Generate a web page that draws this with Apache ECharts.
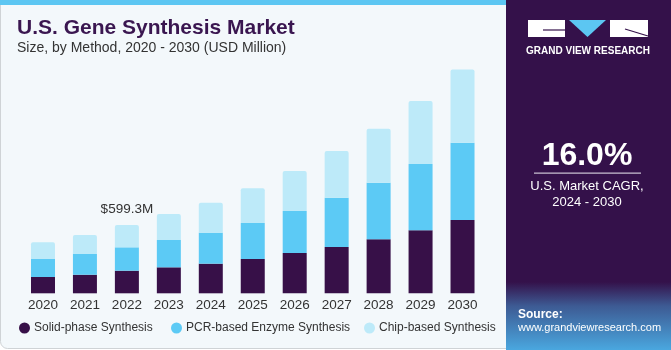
<!DOCTYPE html>
<html><head><meta charset="utf-8">
<script src="https://cdn.jsdelivr.net/npm/echarts@6/dist/echarts.min.js"></script>
<style>html,body{margin:0;padding:0;background:#fff}#c{width:671px;height:350px}</style>
</head><body><div id="c"></div>
<script>
var years = ['2020','2021','2022','2023','2024','2025','2026','2027','2028','2029','2030'];
var solidPhase = [143, 163, 198.3, 228, 260, 301, 354, 406, 474, 553, 643];
var pcrBased   = [158, 182, 205, 240, 272, 316, 369, 433, 497, 582, 678];
var chipBased  = [147, 167, 196, 228, 263, 304, 351, 410, 474, 553, 644];
var seriesNames = ['Solid-phase Synthesis','PCR-based Enzyme Synthesis','Chip-based Synthesis'];
var calloutIndex = 2;
var calloutText = '$599.3M';

var chart = echarts.init(document.getElementById('c'), null, {renderer:'canvas'});
var font = 'Liberation Sans, Arial, sans-serif';
var chipData = chipBased.map(function(v,i){
  if(i===calloutIndex) return {value:v,label:{show:true,position:'top',distance:9,formatter:calloutText,color:'#333',fontSize:13.5,fontFamily:font}};
  return v;
});
var legendLefts = [14, 166, 359];
var legends = seriesNames.map(function(n,i){
  return {left:legendLefts[i],top:317,itemWidth:11,itemHeight:11,icon:'circle',
    textStyle:{color:'#333',fontSize:12,fontFamily:font,padding:[0,0,0,-1]},data:[n]};
});
chart.setOption({
  animation:false,
  backgroundColor:'#ffffff',
  graphic:[
    {type:'rect',z:-10,shape:{x:0.5,y:0.5,width:520,height:348,r:[0,0,0,7]},style:{fill:'#f3f8fb',stroke:'#cfd3d6',lineWidth:1}},
    {type:'rect',z:-9,shape:{x:0,y:0,width:510,height:5},style:{fill:'#5cc6f2'}},
    {type:'rect',z:-8,shape:{x:506,y:0,width:165,height:350},style:{fill:'#34114a'}},
    {type:'rect',z:-7,shape:{x:506,y:282,width:165,height:68},style:{fill:new echarts.graphic.LinearGradient(0,0,0,1,[{offset:0,color:'#34114a'},{offset:0.35,color:'#3d5a93'},{offset:1,color:'#4aa7df'}])}},
    {type:'text',left:17,top:18,style:{text:'U.S. Gene Synthesis Market',fill:'#3a1650',font:'bold 21px '+font}},
    {type:'text',left:17,top:41,style:{text:'Size, by Method, 2020 - 2030 (USD Million)',fill:'#333',font:'14px '+font}},
    // logo
    {type:'rect',shape:{x:528,y:20,width:37,height:17},style:{fill:'#fff'}},
    {type:'polyline',shape:{points:[[543,30],[565,30]]},style:{stroke:'#34114a',lineWidth:1.2}},
    {type:'polygon',shape:{points:[[569,20],[606,20],[587.5,37]]},style:{fill:'#5cc6f2'}},
    {type:'rect',shape:{x:610,y:20,width:38,height:17},style:{fill:'#fff'}},
    {type:'polyline',shape:{points:[[625,29],[648,36]]},style:{stroke:'#34114a',lineWidth:1.2}},
    {type:'text',x:588,y:46,style:{text:'GRAND VIEW RESEARCH',fill:'#fff',font:'bold 10px '+font,align:'center'}},
    {type:'text',x:587,y:140,style:{text:'16.0%',fill:'#fff',font:'bold 32px '+font,align:'center'}},
    {type:'rect',shape:{x:534,y:172.5,width:107,height:1.2},style:{fill:'#c9c0d2'}},
    {type:'text',x:587,y:180,style:{text:'U.S. Market CAGR,',fill:'#fff',font:'13px '+font,align:'center'}},
    {type:'text',x:587,y:196,style:{text:'2024 - 2030',fill:'#fff',font:'13px '+font,align:'center'}},
    {type:'text',x:518,y:309,style:{text:'Source:',fill:'#fff',font:'bold 12px '+font}},
    {type:'text',x:518,y:322,style:{text:'www.grandviewresearch.com',fill:'#fff',font:'11px '+font}}
  ],
  legend:legends,
  grid:{left:22,right:187.5,top:65.4,bottom:56.7,containLabel:false},
  xAxis:{type:'category',data:years,axisLine:{show:false},axisTick:{show:false},
    axisLabel:{color:'#333',fontSize:13.5,fontFamily:font,margin:5}},
  yAxis:{type:'value',min:0,max:2000,show:false,splitLine:{show:false}},
  series:[
    {name:seriesNames[0],type:'bar',stack:'t',data:solidPhase,barWidth:24,itemStyle:{color:'#371048'}},
    {name:seriesNames[1],type:'bar',stack:'t',data:pcrBased,barWidth:24,itemStyle:{color:'#5ccaf5'}},
    {name:seriesNames[2],type:'bar',stack:'t',data:chipData,barWidth:24,itemStyle:{color:'#bdeaf9',borderRadius:[2,2,0,0]}}
  ]
});
</script></body></html>
